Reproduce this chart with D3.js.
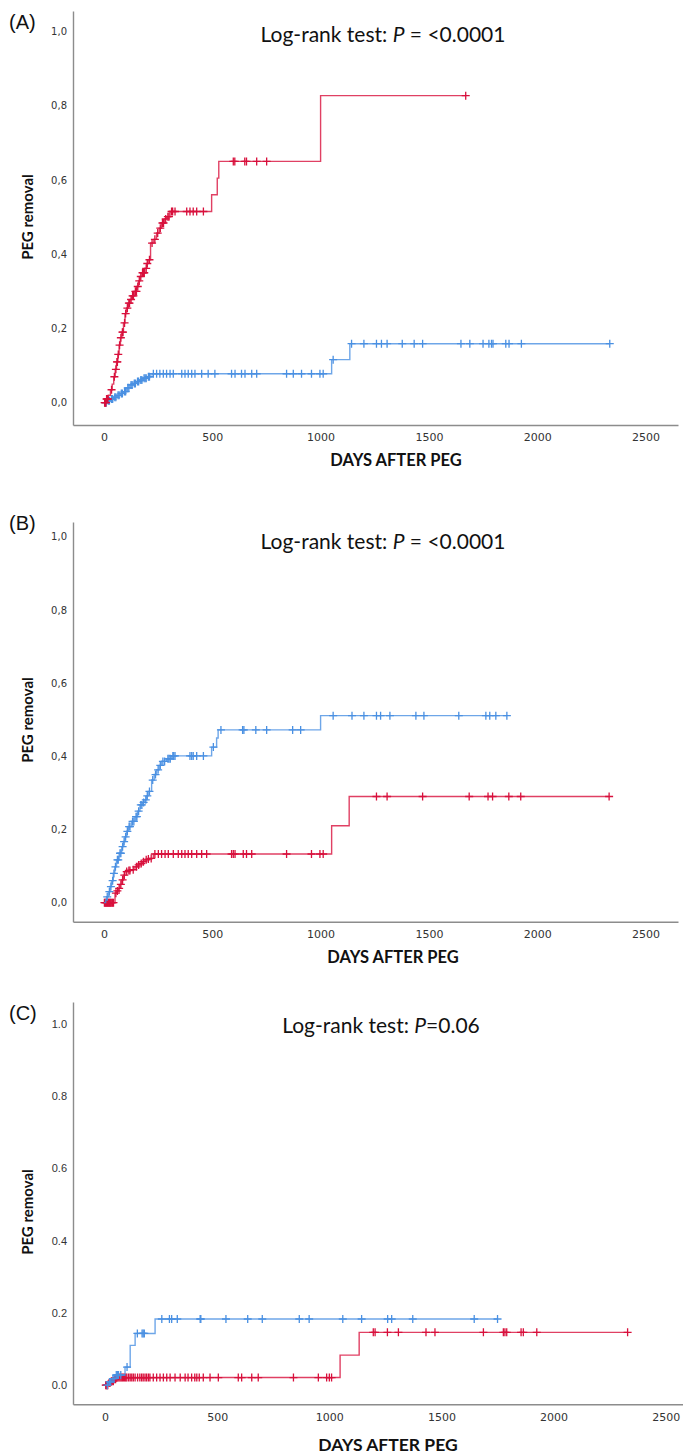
<!DOCTYPE html>
<html>
<head>
<meta charset="utf-8">
<script src="https://cdn.jsdelivr.net/npm/d3@7"></script>
<style>
  body { margin: 0; background: #fff; }
  svg { display: block; }
  .axis path { stroke: #8c8c8c; stroke-width: 1.4px; }
  .axis text { fill: #333; }
  .title { font-family: Lato, "Open Sans", sans-serif; font-size: 21px; fill: #111; }
  .xlab, .ylab { font-family: Lato, "Open Sans", sans-serif; font-weight: 700; fill: #111; }
  .letter { font-family: "Liberation Sans", Arial, sans-serif; font-size: 20px; fill: #111; }
</style>
</head>
<body>
<svg id="chart" width="683" height="1455"></svg>
<script>
// ── Data ─────────────────────────────────────────────────────────
const xTicks = [0, 500, 1000, 1500, 2000, 2500];
const yTicks = [0, 0.2, 0.4, 0.6, 0.8, 1.0];

// Panel A
const aRedDays = [0, 10, 20, 30, 38, 45, 52, 58, 64, 70, 76, 82, 90, 97, 105, 112, 120, 128, 140, 151, 160, 166, 175, 189, 198, 204, 215, 230, 243, 255, 266, 280, 289, 305, 497, 523, 530, 1000];
const aRedVals = [0, 0.01, 0.02, 0.035, 0.05, 0.07, 0.09, 0.11, 0.13, 0.155, 0.175, 0.19, 0.215, 0.24, 0.255, 0.268, 0.278, 0.288, 0.3, 0.313, 0.328, 0.34, 0.35, 0.362, 0.375, 0.385, 0.43, 0.44, 0.457, 0.47, 0.484, 0.495, 0.501, 0.515, 0.56, 0.605, 0.65, 0.827];
const aRedCens = [3, 6, 9, 12, 15, 18, 35, 48, 55, 60, 62, 66, 72, 78, 85, 88, 95, 100, 108, 115, 118, 125, 132, 136, 145, 150, 156, 163, 170, 178, 183, 186, 195, 200, 210, 222, 235, 248, 260, 270, 275, 285, 295, 300,
  312, 317, 328, 382, 397, 412, 428, 459, 597, 604, 650, 658, 705, 751, 1670];
const aBlueDays = [0, 15, 30, 45, 60, 75, 90, 105, 120, 135, 151, 165, 182, 200, 212, 225, 1051, 1135];
const aBlueVals = [0, 0.005, 0.01, 0.015, 0.02, 0.025, 0.03, 0.04, 0.048, 0.052, 0.057, 0.061, 0.066, 0.07, 0.075, 0.078, 0.116, 0.159];
const aBlueCens = [5, 10, 20, 25, 35, 40, 50, 55, 65, 70, 80, 85, 95, 100, 110, 115, 125, 130, 140, 145, 155, 160, 170, 175, 185, 190, 195, 205, 210,
  228, 243, 258, 274, 289, 305, 320, 359, 374, 389, 405, 420, 451, 481, 512, 589, 605, 635, 651, 682, 705, 843, 874, 912, 958, 997, 1012,
  1058, 1143, 1200, 1258, 1281, 1307, 1377, 1432, 1471, 1648, 1689, 1750, 1777, 1789, 1796, 1855, 1870, 1927, 2335];

// Panel B
const bBlueDays = [0, 8, 12, 20, 28, 35, 43, 50, 58, 70, 82, 90, 97, 105, 112, 128, 143, 155, 166, 178, 189, 197, 204, 220, 232, 243, 255, 266, 289, 312, 497, 520, 527, 1000];
const bBlueVals = [0, 0.008, 0.016, 0.03, 0.044, 0.06, 0.08, 0.098, 0.117, 0.135, 0.153, 0.167, 0.18, 0.195, 0.208, 0.222, 0.235, 0.25, 0.267, 0.274, 0.281, 0.292, 0.304, 0.335, 0.35, 0.363, 0.375, 0.386, 0.393, 0.401, 0.425, 0.45, 0.472, 0.511];
const bBlueCens = [15, 25, 32, 40, 46, 53, 62, 66, 74, 78, 86, 93, 100, 108, 116, 120, 132, 138, 148, 152, 160, 170, 175, 183, 193, 200, 210, 225, 238, 250, 260, 272, 280, 295, 300, 306,
  318, 322, 328, 397, 405, 412, 428, 459, 505, 540, 640, 646, 701, 751, 871, 908,
  1058, 1145, 1200, 1258, 1277, 1320, 1440, 1477, 1638, 1763, 1781, 1809, 1860];
const bRedDays = [0, 51, 58, 66, 74, 82, 90, 97, 112, 128, 143, 155, 166, 178, 189, 200, 212, 228, 1051, 1132];
const bRedVals = [0, 0.026, 0.032, 0.039, 0.05, 0.062, 0.075, 0.085, 0.088, 0.09, 0.098, 0.103, 0.107, 0.112, 0.117, 0.119, 0.121, 0.133, 0.21, 0.29];
const bRedCens = [2, 5, 8, 11, 14, 17, 20, 23, 26, 29, 32, 36, 40, 44, 55, 62, 70, 78, 86, 94, 105, 115, 120, 135, 150, 160, 172, 182, 195, 205, 218,
  235, 251, 266, 282, 297, 320, 343, 359, 374, 389, 405, 428, 451, 474, 589, 597, 605, 643, 658, 682, 843, 958, 997, 1012,
  1258, 1307, 1471, 1686, 1773, 1794, 1869, 1924, 2332];

// Panel C
const cBlueDays = [0, 15, 30, 45, 89, 112, 134, 223];
const cBlueVals = [0, 0.009, 0.018, 0.028, 0.05, 0.11, 0.143, 0.183];
const cBlueCens = [10, 20, 25, 35, 40, 50, 55, 60, 70, 98, 144, 165, 170, 175,
  253, 287, 297, 322, 424, 427, 539, 636, 701, 866, 910, 1060, 1144, 1260, 1278, 1372, 1646, 1750];
const cRedDays = [0, 15, 25, 40, 52, 1048, 1133];
const cRedVals = [0, 0.006, 0.011, 0.016, 0.021, 0.083, 0.146];
const cRedCens = [3, 6, 9, 12, 18, 22, 28, 32, 37, 42, 47, 52, 57, 62, 67, 72, 77, 82, 87, 92, 97, 105, 112, 119, 126, 134, 145, 155, 163, 170, 178, 185, 193, 200,
  215, 230, 245, 260, 275, 290, 312, 335, 357, 370, 386, 400, 409, 420, 438, 468, 505, 594, 609, 654, 683, 840, 951, 988, 1000, 1010,
  1196, 1204, 1259, 1308, 1431, 1471, 1687, 1776, 1783, 1791, 1855, 1865, 1925, 2330];

// ── Layout ───────────────────────────────────────────────────────
const RED = '#d8103c', BLUE = '#4a90e2';

const panels = [
  { letter: '(A)', letterY: 29, pText: ' = <0.0001', titleX: 383, titleY: 42,
    xDom: [-143, 2650], xRange: [73, 678], yDom: [-0.06, 1.055], yRange: [425, 11],
    comma: true, yFont: 'DejaVu Sans', yFs: 10, xlabX: 396, xlabY: 466, xlabFs: 16.5, ylabY: 217,
    series: [
      { color: BLUE, days: aBlueDays, vals: aBlueVals, cens: aBlueCens },
      { color: RED, days: aRedDays, vals: aRedVals, cens: aRedCens },
    ] },
  { letter: '(B)', letterY: 530, pText: ' = <0.0001', titleX: 383, titleY: 549,
    xDom: [-143, 2650], xRange: [73, 678], yDom: [-0.052, 1.04], yRange: [921.7, 522],
    comma: true, yFont: 'DejaVu Sans', yFs: 10, xlabX: 393, xlabY: 963, xlabFs: 16.5, ylabY: 720,
    series: [
      { color: RED, days: bRedDays, vals: bRedVals, cens: bRedCens },
      { color: BLUE, days: bBlueDays, vals: bBlueVals, cens: bBlueCens },
    ] },
  { letter: '(C)', letterY: 1020, pText: '=0.06', titleX: 381, titleY: 1033,
    xDom: [-143, 2577], xRange: [73, 683], yDom: [-0.053, 1.06], yRange: [1404.3, 1002],
    comma: false, yFont: 'Liberation Sans', yFs: 11, xlabX: 388, xlabY: 1451, xlabFs: 17.5, ylabY: 1212,
    series: [
      { color: RED, days: cRedDays, vals: cRedVals, cens: cRedCens },
      { color: BLUE, days: cBlueDays, vals: cBlueVals, cens: cBlueCens },
    ] },
];

const svg = d3.select('#chart');

panels.forEach(renderPanel);

function renderPanel(p) {
  const x = d3.scaleLinear().domain(p.xDom).range(p.xRange);
  const y = d3.scaleLinear().domain(p.yDom).range(p.yRange);
  const g = svg.append('g');

  // Axes
  const fmt = v => p.comma ? d3.format('.1f')(v).replace('.', ',') : d3.format('.1f')(v);
  const ya = g.append('g').attr('class', 'axis')
    .attr('transform', `translate(${p.xRange[0]},0)`)
    .call(d3.axisLeft(y).tickValues(yTicks).tickFormat(fmt).tickSize(0).tickPadding(6));
  ya.selectAll('text').attr('font-family', p.yFont).attr('font-size', p.yFs);

  const xa = g.append('g').attr('class', 'axis')
    .attr('transform', `translate(0,${p.yRange[0]})`)
    .call(d3.axisBottom(x).tickValues(xTicks).tickFormat(d3.format('d')).tickSize(0).tickPadding(8.5));
  xa.selectAll('text').attr('font-family', 'DejaVu Sans').attr('font-size', 11);

  // Curves
  p.series.forEach(s => {
    const end = Math.max(d3.max(s.cens), d3.max(s.days));
    const pts = s.days.map((d, i) => [d, s.vals[i]]);
    pts.push([end, s.vals[s.vals.length - 1]]);
    const line = d3.line().x(d => x(d[0])).y(d => y(d[1])).curve(d3.curveStepAfter);
    g.append('path')
      .attr('d', line(pts))
      .attr('fill', 'none')
      .attr('stroke', s.color)
      .attr('stroke-width', 1.4)
      .attr('stroke-opacity', 0.8);

    const valAt = t => s.vals[d3.bisectRight(s.days, t) - 1];
    const k = 4;
    g.append('g').selectAll('path')
      .data(s.cens)
      .enter()
      .append('path')
      .attr('d', t => {
        const cx = x(t), cy = y(valAt(t));
        return `M${cx - k},${cy}H${cx + k}M${cx},${cy - k}V${cy + k}`;
      })
      .attr('stroke', s.color)
      .attr('stroke-width', 1.3);
  });

  // Texts
  g.append('text').attr('class', 'letter')
    .attr('x', 9).attr('y', p.letterY).text(p.letter);

  const t = g.append('text').attr('class', 'title')
    .attr('x', p.titleX).attr('y', p.titleY).attr('text-anchor', 'middle');
  t.append('tspan').text('Log-rank test: ');
  t.append('tspan').attr('font-style', 'italic').text('P');
  t.append('tspan').text(p.pText);

  g.append('text').attr('class', 'xlab')
    .attr('x', p.xlabX).attr('y', p.xlabY)
    .attr('text-anchor', 'middle').attr('font-size', p.xlabFs)
    .text('DAYS AFTER PEG');

  g.append('text').attr('class', 'ylab')
    .attr('transform', `translate(33,${p.ylabY}) rotate(-90)`)
    .attr('text-anchor', 'middle').attr('font-size', 15)
    .text('PEG removal');
}
</script>
</body>
</html>
